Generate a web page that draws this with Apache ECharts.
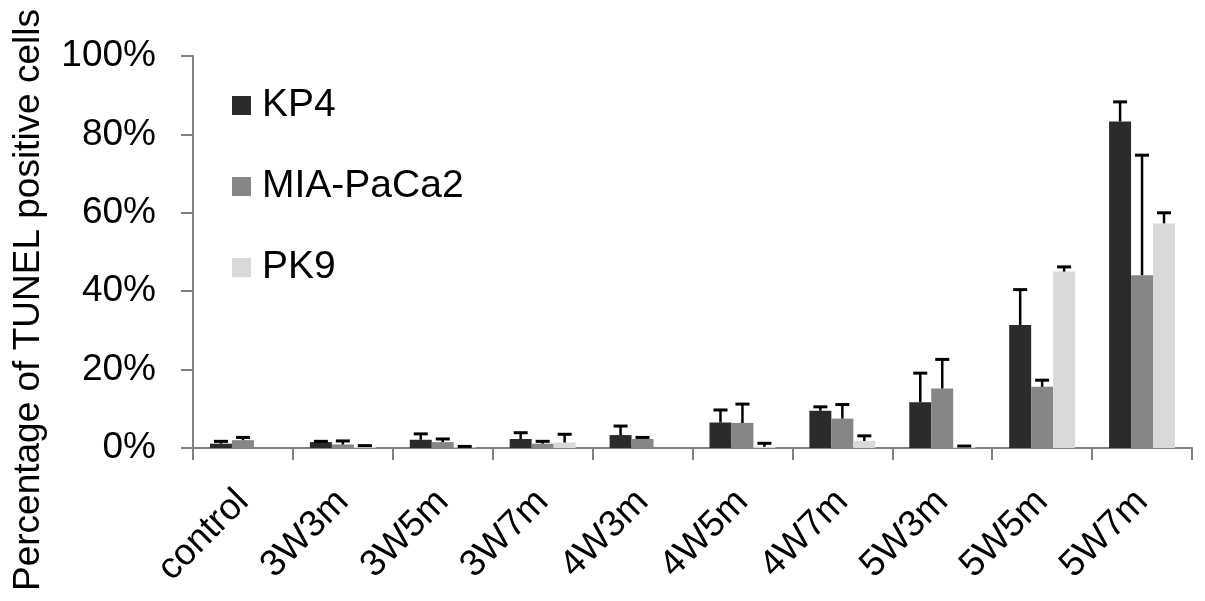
<!DOCTYPE html>
<html>
<head>
<meta charset="utf-8">
<script src="https://cdn.jsdelivr.net/npm/echarts@6/dist/echarts.min.js"></script>
<style>
  html, body { margin: 0; padding: 0; background: #fff; }
  #chart { width: 1205px; height: 601px; }
</style>
</head>
<body>
<div id="chart"></div>
<script>
// categories and tick labels
const categories = ['control', '3W3m', '3W5m', '3W7m', '4W3m', '4W5m', '4W7m', '5W3m', '5W5m', '5W7m']
const yTicks = [0, 20, 40, 60, 80, 100]

// mean values (%)
const kp4 = [1.1, 1.5, 2.1, 2.3, 3.3, 6.5, 9.5, 11.7, 31.4, 83.3]
const mia = [2.0, 0.9, 1.5, 1.1, 2.3, 6.4, 7.5, 15.2, 15.6, 44.1]
const pk9 = [null, 0.3, 0.2, 1.4, null, 0.3, 1.8, 0.3, 45.0, 57.3]

// upper error (SD), only the top whisker is drawn
const kp4Err = [0.6, 0.2, 1.5, 1.6, 2.3, 3.2, 1.0, 7.4, 9.0, 5.0]
const miaErr = [0.7, 0.9, 0.8, 0.6, 0.4, 4.8, 3.6, 7.4, 1.7, 30.6]
const pk9Err = [null, 0.3, 0.2, 2.1, null, 0.9, 1.3, 0.2, 1.2, 2.7]

const names = ['KP4', 'MIA-PaCa2', 'PK9']
const colors = ['#2b2b2b', '#868686', '#d9d9d9']
const font = 'Liberation Sans, Arial, sans-serif'

function barSeries(i, vals) {
  return {
    name: names[i],
    type: 'bar',
    data: vals,
    barWidth: '22%',
    barGap: '0%',
    itemStyle: { color: colors[i] },
    emphasis: { disabled: true }
  }
}

function errSeries(i, vals, errs) {
  const data = []
  vals.forEach((v, k) => {
    if (v !== null && errs[k] !== null) data.push([k, v, v + errs[k]])
  })
  return {
    type: 'custom',
    name: names[i] + ' err',
    z: 5,
    silent: true,
    encode: { x: 0, y: [1, 2] },
    data: data,
    renderItem: function (params, api) {
      const c = api.value(0)
      const base = api.coord([c, api.value(1)])
      const top = api.coord([c, api.value(2)])
      const band = api.size([1, 0])[0]
      const bw = band * 0.22
      const x = base[0] + (i - 1) * bw
      return {
        type: 'group',
        children: [
          { type: 'line', shape: { x1: x, y1: base[1], x2: x, y2: top[1] }, style: { stroke: '#000', lineWidth: 2.5 } },
          { type: 'line', shape: { x1: x - 7, y1: top[1], x2: x + 7, y2: top[1] }, style: { stroke: '#000', lineWidth: 3 } }
        ]
      }
    }
  }
}

const chart = echarts.init(document.getElementById('chart'), null, { renderer: 'canvas' })

chart.setOption({
  animation: false,
  backgroundColor: '#fff',
  textStyle: { fontFamily: font },
  grid: { left: 193, right: 13, top: 56, bottom: 153, containLabel: false },
  legend: {
    orient: 'vertical',
    left: 232,
    top: 86,
    padding: 0,
    itemWidth: 19,
    itemHeight: 19,
    itemGap: 42,
    icon: 'rect',
    data: names,
    textStyle: { fontFamily: font, fontSize: 39, color: '#000', lineHeight: 38, padding: [0, 0, 0, 6] }
  },
  graphic: [{
    type: 'text',
    x: 29,
    y: 300,
    rotation: Math.PI / 2,
    style: {
      text: 'Percentage of TUNEL positive cells',
      fontFamily: font,
      fontSize: 37,
      fill: '#000',
      align: 'center',
      verticalAlign: 'middle'
    }
  }],
  xAxis: {
    type: 'category',
    data: categories,
    axisLine: { lineStyle: { color: '#808080', width: 2 } },
    axisTick: { show: true, length: 12, lineStyle: { color: '#808080', width: 2 } },
    axisLabel: { rotate: 45, margin: 48, fontFamily: font, fontSize: 37, color: '#000', interval: 0 },
    splitLine: { show: false }
  },
  yAxis: {
    type: 'value',
    min: yTicks[0],
    max: yTicks[yTicks.length - 1],
    interval: 20,
    axisLine: { show: true, lineStyle: { color: '#808080', width: 2 } },
    axisTick: { show: true, length: 12, lineStyle: { color: '#808080', width: 2 } },
    axisLabel: { formatter: '{value}%', margin: 37, fontFamily: font, fontSize: 37, color: '#000' },
    splitLine: { show: false }
  },
  series: [
    barSeries(0, kp4),
    barSeries(1, mia),
    barSeries(2, pk9),
    errSeries(0, kp4, kp4Err),
    errSeries(1, mia, miaErr),
    errSeries(2, pk9, pk9Err)
  ]
})
</script>
</body>
</html>
